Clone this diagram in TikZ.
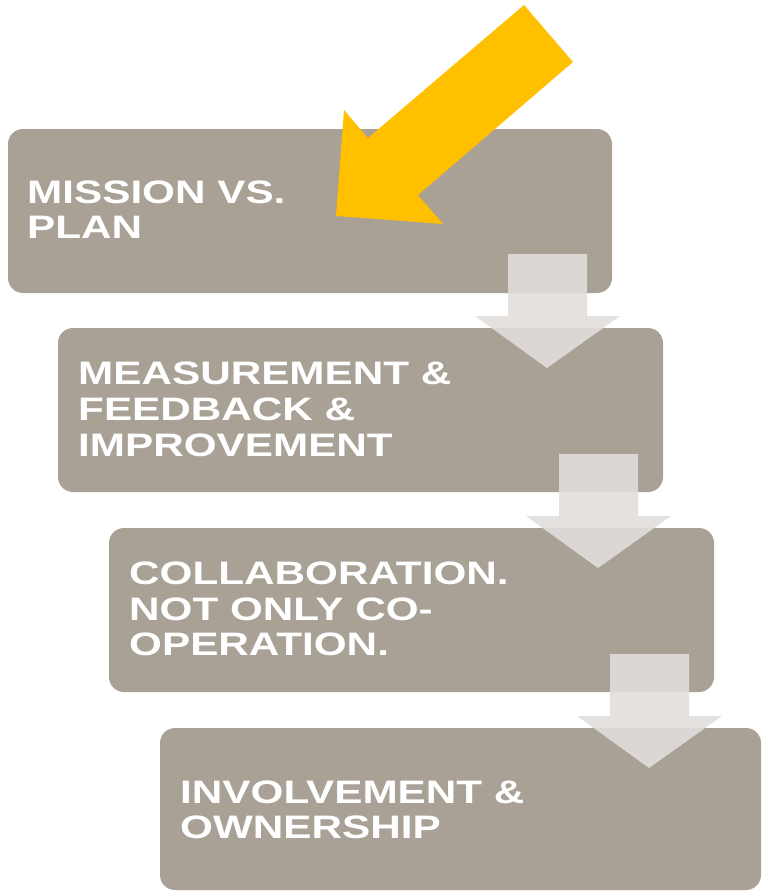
\documentclass[tikz,border=0pt]{standalone}
\usepackage{fontspec}
\setmainfont{Liberation Sans}
\newfontfamily\boxfont[FakeStretch=1.3]{Liberation Sans}
\definecolor{boxgray}{HTML}{A9A096}
\definecolor{arrowgray}{HTML}{E1DEDB}
\definecolor{gold}{HTML}{FFC000}
\begin{document}
\begin{tikzpicture}[x=1pt,y=-1pt,
  stepbox/.style={fill=boxgray, rounded corners=15pt},
  downarrow/.style={fill=arrowgray, fill opacity=0.9},
  label/.style={anchor=base west, inner sep=0pt, text=white,
    font=\boxfont\bfseries\fontsize{32.5}{35.5}\selectfont}]
\useasboundingbox (0,0) rectangle (762,892);
\clip (0,0) rectangle (762,892);
% boxes
\fill[stepbox] (8,129) rectangle (612,293);
\fill[stepbox] (58,328) rectangle (663,492);
\fill[stepbox] (109,528) rectangle (714,692);
\fill[stepbox] (160,728) rectangle (761,890);
% texts
\node[label] (t1a) at (27,203) {MISSION VS.};
\node[label] (t1b) at (27,238) {PLAN};
\node[label] (t2a) at (78,384) {MEASUREMENT \&};
\node[label] (t2b) at (78,420) {FEEDBACK \&};
\node[label] (t2c) at (78,456) {IMPROVEMENT};
\node[label] (t3a) at (129,584) {COLLABORATION.};
\node[label] (t3b) at (129,620) {NOT ONLY CO-};
\node[label] (t3c) at (129,655) {OPERATION.};
\node[label] (t4a) at (180,803) {INVOLVEMENT \&};
\node[label] (t4b) at (180,838) {OWNERSHIP};
% down arrows
\foreach \dx/\dy in {0/0,51/200,102/400}{
  \fill[downarrow, shift={(\dx,\dy)}]
    (508,254) -- (587,254) -- (587,316) -- (620,316) -- (547,368)
    -- (475,316) -- (508,316) -- cycle;
}
% yellow arrow
\fill[gold] (524,5) -- (573,62) -- (418,195) -- (443,224) -- (336,216)
  -- (344,110) -- (368,138) -- cycle;
\end{tikzpicture}
\end{document}
